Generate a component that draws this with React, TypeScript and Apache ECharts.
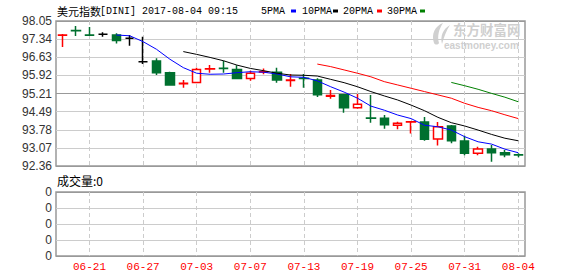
import React, { useEffect, useRef } from 'react';
import * as echarts from 'echarts';

const dates = [
  '06-19', '06-20', '06-21', '06-22', '06-23', '06-26', '06-27', '06-28', '06-29', '06-30',
  '07-03', '07-04', '07-05', '07-06', '07-07', '07-10', '07-11', '07-12', '07-13', '07-14',
  '07-17', '07-18', '07-19', '07-20', '07-21', '07-24', '07-25', '07-26', '07-27', '07-28',
  '07-31', '08-01', '08-02', '08-03', '08-04',
];

// [open, close, low, high]
const ohlc: number[][] = [
  [97.49, 97.5, 97.03, 97.54],
  [97.68, 97.67, 97.46, 97.85],
  [97.5, 97.49, 97.49, 97.81],
  [97.53, 97.53, 97.43, 97.61],
  [97.5, 97.28, 97.17, 97.57],
  [97.37, 97.37, 97.08, 97.5],
  [96.45, 96.45, 96.36, 97.43],
  [96.48, 96.02, 95.93, 96.59],
  [96.02, 95.54, 95.51, 96.06],
  [95.59, 95.61, 95.43, 95.73],
  [95.64, 96.15, 95.61, 96.22],
  [96.17, 96.18, 96.02, 96.32],
  [96.2, 96.19, 96.02, 96.49],
  [96.15, 95.79, 95.77, 96.31],
  [95.79, 96.0, 95.71, 96.1],
  [96.05, 96.06, 95.96, 96.19],
  [96.04, 95.73, 95.63, 96.22],
  [95.72, 95.73, 95.47, 95.97],
  [95.8, 95.79, 95.43, 95.97],
  [95.73, 95.16, 95.07, 95.8],
  [95.1, 95.13, 95.0, 95.34],
  [95.16, 94.65, 94.45, 95.16],
  [94.65, 94.78, 94.61, 95.19],
  [94.24, 94.23, 94.06, 95.15],
  [94.23, 93.98, 93.82, 94.36],
  [93.96, 94.04, 93.8, 94.1],
  [94.09, 94.1, 93.64, 94.13],
  [94.09, 93.41, 93.35, 94.28],
  [93.42, 93.9, 93.16, 94.09],
  [93.93, 93.35, 93.25, 93.97],
  [93.34, 92.86, 92.78, 93.55],
  [92.86, 93.03, 92.78, 93.12],
  [93.03, 92.88, 92.53, 93.18],
  [92.88, 92.8, 92.7, 92.99],
  [92.8, 92.79, 92.7, 92.86],
];

const N = null;
const ma5 = [N, N, N, N, 97.5, 97.47, 97.24, 96.94, 96.55, 96.22, 96.0, 95.96, 95.97, 96.02, 96.06,
  96.04, 95.97, 95.86, 95.84, 95.7, 95.47, 95.26, 95.02, 94.71, 94.55, 94.36, 94.22, 93.96, 93.9,
  93.77, 93.51, 93.31, 93.22, 93.02, 92.88];
const ma10 = [N, N, N, N, N, N, N, N, N, 96.85, 96.74, 96.62, 96.49, 96.32, 96.19, 96.1, 96.0,
  95.93, 95.92, 95.89, 95.76, 95.63, 95.47, 95.28, 95.11, 94.95, 94.75, 94.53, 94.27, 94.06, 93.93,
  93.77, 93.6, 93.45, 93.35];
const ma20 = [N, N, N, N, N, N, N, N, N, N, N, N, N, N, N, N, N, N, N, 96.36, 96.26, 96.13, 96.0,
  95.86, 95.67, 95.54, 95.41, 95.28, 95.15, 95.02, 94.82, 94.66, 94.53, 94.37, 94.22];
const ma30 = [N, N, N, N, N, N, N, N, N, N, N, N, N, N, N, N, N, N, N, N, N, N, N, N, N, N, N, N, N,
  95.64, 95.51, 95.37, 95.21, 95.06, 94.88];

const yTickLabels = ['92.36', '93.07', '93.78', '94.49', '95.21', '95.92', '96.63', '97.34', '98.05'];
const volTickLabels = ['0', '0', '0', '0', '0'];
const priceMin = 92.36;
const priceMax = 98.05;

let logoRegistered = false;
function registerLogo() {
  if (logoRegistered) return;
  logoRegistered = true;
  const d = 'M13 0 C5 3 1 11 4 20 C5 22 8 22 9 20 C7 13 9 6 13 0 Z M20 2 C13 6 10 13 12 21 C14 14 16 8 20 2 Z';
  echarts.graphic.registerShape('emLogo', echarts.graphic.extendPath(d, {}));
}

export default function App() {
  const ref = useRef<HTMLDivElement>(null);
  useEffect(() => {
    registerLogo();
    const chart = echarts.init(ref.current!, null, { renderer: 'svg' });
    const mono = "'Liberation Mono', 'DejaVu Sans Mono', monospace";
    const cjk = "'Noto Sans CJK SC', sans-serif";
    const bandInterval = (i: number) => i % 4 === 2;
    const upColor = '#ff0000';
    const downColor = '#00702f';

    const candleSeriesData = ohlc.map((c) => {
      if (c[0] === c[1]) {
        return {
          value: c,
          itemStyle: { color: '#000', color0: '#000', borderColor: '#000', borderColor0: '#000' },
        };
      }
      return { value: c };
    });

    const vSplit = {
      show: true,
      interval: bandInterval,
      alignWithLabel: true,
      lineStyle: { color: '#cccccc', type: [4, 3], width: 1 },
    };

    const lineSeries = (data: (number | null)[], color: string) => ({
      type: 'line',
      xAxisIndex: 0,
      yAxisIndex: 1,
      data,
      showSymbol: false,
      symbol: 'none',
      lineStyle: { color, width: 1 },
      itemStyle: { color },
      connectNulls: false,
      silent: true,
    });

    const legend = [
      { t: '5PMA', x: 261, rx: 291, c: '#0000ff' },
      { t: '10PMA', x: 302, rx: 333, c: '#000000' },
      { t: '20PMA', x: 343, rx: 377, c: '#ff0000' },
      { t: '30PMA', x: 387, rx: 420, c: '#008000' },
    ];

    chart.setOption({
      animation: false,
      backgroundColor: '#ffffff',
      grid: [
        { left: 56, top: 21, width: 469, height: 145, show: true, borderColor: '#999', borderWidth: 1.5 },
        { left: 56, top: 192, width: 469, height: 64, show: true, borderColor: '#999', borderWidth: 1.5 },
      ],
      xAxis: [
        {
          type: 'category', gridIndex: 0, data: dates, boundaryGap: true,
          axisLine: { show: false }, axisTick: { show: false }, axisLabel: { show: false },
          splitLine: vSplit,
        },
        {
          type: 'category', gridIndex: 1, data: dates, boundaryGap: true,
          axisLine: { show: false }, axisTick: { show: false },
          axisLabel: { show: true, interval: bandInterval, color: '#ff0000', fontFamily: mono, fontSize: 11, margin: 5 },
          splitLine: vSplit,
        },
      ],
      yAxis: [
        {
          type: 'value', gridIndex: 0, min: 0, max: 8, interval: 1,
          axisLine: { show: false }, axisTick: { show: false },
          axisLabel: {
            formatter: (v: number) => yTickLabels[Math.round(v)],
            color: '#333', fontSize: 12, fontFamily: "'Liberation Sans', Arial, sans-serif", margin: 4,
          },
          splitLine: {
            show: true,
            lineStyle: { color: ['#999', '#ccc', '#ccc', '#ccc', '#999', '#ccc', '#ccc', '#ccc', '#999'], width: 1 },
          },
        },
        {
          type: 'value', gridIndex: 0, min: priceMin, max: priceMax, show: false,
          splitLine: { show: false },
        },
        {
          type: 'value', gridIndex: 1, min: 0, max: 4, interval: 1,
          axisLine: { show: false }, axisTick: { show: false },
          axisLabel: {
            formatter: (v: number) => volTickLabels[Math.round(v)],
            color: '#333', fontSize: 12, fontFamily: "'Liberation Sans', Arial, sans-serif", margin: 4,
          },
          splitLine: { show: true, lineStyle: { color: ['#999', '#ccc', '#ccc', '#ccc', '#999'], width: 1 } },
        },
      ],
      series: [
        {
          type: 'candlestick',
          xAxisIndex: 0,
          yAxisIndex: 1,
          data: candleSeriesData,
          barWidth: 9,
          itemStyle: {
            color: '#ffffff',
            color0: downColor,
            borderColor: upColor,
            borderColor0: downColor,
            borderColorDoji: '#000',
            borderWidth: 1.5,
          },
          silent: true,
        },
        lineSeries(ma5, '#0000ff'),
        lineSeries(ma10, '#000000'),
        lineSeries(ma20, '#ff0000'),
        lineSeries(ma30, '#008000'),
      ],
      graphic: [
        {
          type: 'emLogo', x: 430, y: 23, scaleX: 1, scaleY: 1, z: -1,
          style: { fill: '#d0d0d0' },
        },
        {
          type: 'text', x: 453, y: 29, z: -1,
          style: { text: '东方财富网', font: `bold 13.5px ${cjk}`, lineHeight: 13, fill: '#cfcfcf', verticalAlign: 'middle' },
        },
        {
          type: 'text', x: 444, y: 45, z: -1,
          style: { text: 'eastmoney.com', font: "bold 10px 'Liberation Sans', Arial, sans-serif", lineHeight: 10, fill: '#cfcfcf', verticalAlign: 'middle' },
        },
        {
          type: 'text', x: 57, y: 11,
          style: { text: '美元指数', font: `11px ${cjk}`, fill: '#000', verticalAlign: 'middle' },
        },
        {
          type: 'text', x: 100, y: 11,
          style: { text: '[DINI] 2017-08-04 09:15', font: `10px ${mono}`, fill: '#000', verticalAlign: 'middle' },
        },
        ...legend.flatMap((l) => [
          {
            type: 'text', x: l.x, y: 11,
            style: { text: l.t, font: `10px ${mono}`, fill: '#000', verticalAlign: 'middle' },
          },
          { type: 'rect', shape: { x: l.rx, y: 9.5, width: 5, height: 3 }, style: { fill: l.c } },
        ]),
        {
          type: 'text', x: 57, y: 180,
          style: { text: '成交量:0', font: `12px ${cjk}`, fill: '#000', verticalAlign: 'middle' },
        },
      ],
    });
    return () => chart.dispose();
  }, []);
  return (
    <div
      ref={ref}
      style={{ position: 'fixed', left: 0, top: 0, width: 578, height: 276, background: '#fff' }}
    />
  );
}
